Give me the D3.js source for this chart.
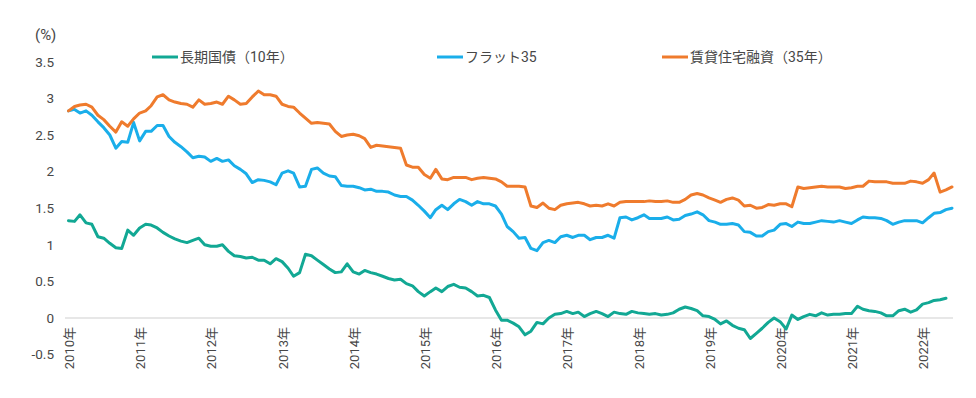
<!DOCTYPE html>
<html>
<head>
<meta charset="utf-8">
<script src="https://cdn.jsdelivr.net/npm/d3@7"></script>
<style>
  html, body { margin: 0; padding: 0; background: #fff; }
  #container { width: 976px; height: 398px; }
  text { font-family: Roboto, "Noto Sans CJK JP", sans-serif; fill: #474747; }
</style>
</head>
<body>
<div id="container"></div>
<script>
// 月次データ 2010年1月〜
const startMonth = new Date(2010, 0, 1);
const yearTicks = [2010, 2011, 2012, 2013, 2014, 2015, 2016, 2017, 2018, 2019, 2020, 2021, 2022];
const yTicks = [-0.5, 0, 0.5, 1, 1.5, 2, 2.5, 3, 3.5];
const seriesNames = ["長期国債（10年）", "フラット35", "賃貸住宅融資（35年）"];

// 長期国債（10年） 2010/1〜2022/5
const jgb10 = [
  1.33, 1.32, 1.41, 1.30, 1.28, 1.11, 1.09, 1.02, 0.96, 0.95, 1.20, 1.13,
  1.23, 1.28, 1.27, 1.23, 1.17, 1.12, 1.08, 1.05, 1.03, 1.06, 1.09, 1.00,
  0.98, 0.98, 1.00, 0.91, 0.85, 0.84, 0.82, 0.83, 0.79, 0.79, 0.74, 0.81,
  0.77, 0.68, 0.57, 0.62, 0.87, 0.85, 0.79, 0.73, 0.67, 0.62, 0.63, 0.74,
  0.63, 0.60, 0.65, 0.62, 0.60, 0.57, 0.54, 0.52, 0.53, 0.47, 0.44, 0.36,
  0.30, 0.36, 0.41, 0.36, 0.43, 0.46, 0.42, 0.41, 0.36, 0.30, 0.31, 0.28,
  0.11, -0.03, -0.03, -0.07, -0.12, -0.23, -0.18, -0.06, -0.08, 0.00, 0.05, 0.06,
  0.09, 0.06, 0.08, 0.02, 0.06, 0.09, 0.06, 0.02, 0.08, 0.06, 0.05, 0.09,
  0.07, 0.06, 0.05, 0.06, 0.04, 0.05, 0.07, 0.12, 0.15, 0.13, 0.10, 0.03,
  0.02, -0.02, -0.08, -0.04, -0.10, -0.14, -0.16, -0.28, -0.21, -0.14, -0.06, 0.00,
  -0.05, -0.15, 0.04, -0.02, 0.02, 0.05, 0.03, 0.07, 0.04, 0.05, 0.05, 0.06,
  0.06, 0.16, 0.12, 0.10, 0.09, 0.07, 0.03, 0.03, 0.10, 0.12, 0.08, 0.11,
  0.19, 0.21, 0.24, 0.25, 0.27
];

// フラット35 2010/1〜2022/6
const flat35 = [
  2.83, 2.85, 2.80, 2.83, 2.77, 2.68, 2.60, 2.50, 2.32, 2.41, 2.40, 2.67,
  2.42, 2.55, 2.55, 2.63, 2.63, 2.48, 2.40, 2.34, 2.27, 2.19, 2.21, 2.20,
  2.14, 2.18, 2.14, 2.16, 2.08, 2.03, 1.97, 1.85, 1.89, 1.88, 1.86, 1.82,
  1.98, 2.01, 1.98, 1.79, 1.80, 2.03, 2.05, 1.98, 1.94, 1.93, 1.81, 1.80,
  1.80, 1.78, 1.75, 1.76, 1.73, 1.73, 1.72, 1.68, 1.66, 1.66, 1.61, 1.54,
  1.46, 1.37, 1.48, 1.54, 1.48, 1.56, 1.62, 1.59, 1.54, 1.59, 1.56, 1.56,
  1.53, 1.42, 1.25, 1.18, 1.09, 1.10, 0.95, 0.92, 1.03, 1.06, 1.03, 1.11,
  1.13, 1.10, 1.13, 1.13, 1.07, 1.10, 1.10, 1.13, 1.09, 1.37, 1.38, 1.34,
  1.37, 1.41, 1.36, 1.36, 1.36, 1.38, 1.34, 1.35, 1.40, 1.42, 1.45, 1.41,
  1.33, 1.31, 1.28, 1.28, 1.29, 1.27, 1.18, 1.17, 1.12, 1.12, 1.18, 1.20,
  1.28, 1.29, 1.25, 1.31, 1.29, 1.29, 1.31, 1.33, 1.32, 1.31, 1.33, 1.31,
  1.29, 1.34, 1.38, 1.37, 1.37, 1.36, 1.33, 1.28, 1.31, 1.33, 1.33, 1.33,
  1.30, 1.37, 1.43, 1.44, 1.48, 1.50
];

// 賃貸住宅融資（35年） 2010/1〜2022/6
const rental35 = [
  2.83, 2.89, 2.91, 2.92, 2.88, 2.77, 2.71, 2.62, 2.54, 2.68, 2.62, 2.72,
  2.80, 2.83, 2.90, 3.02, 3.05, 2.98, 2.95, 2.93, 2.92, 2.88, 2.98, 2.92,
  2.93, 2.95, 2.92, 3.03, 2.98, 2.92, 2.93, 3.02, 3.10, 3.05, 3.05, 3.03,
  2.92, 2.89, 2.88, 2.80, 2.73, 2.66, 2.67, 2.66, 2.65, 2.55, 2.48, 2.50,
  2.51, 2.49, 2.45, 2.33, 2.36, 2.35, 2.34, 2.33, 2.32, 2.09, 2.06, 2.06,
  1.96, 1.91, 2.03, 1.90, 1.89, 1.92, 1.92, 1.92, 1.89, 1.91, 1.92, 1.91,
  1.90, 1.86, 1.80, 1.80, 1.80, 1.79, 1.53, 1.51, 1.57, 1.50, 1.48, 1.54,
  1.56, 1.57, 1.58, 1.56, 1.53, 1.54, 1.53, 1.56, 1.53, 1.58, 1.59, 1.59,
  1.59, 1.59, 1.60, 1.59, 1.59, 1.60, 1.58, 1.58, 1.62, 1.68, 1.70, 1.68,
  1.64, 1.61, 1.58, 1.62, 1.64, 1.61, 1.53, 1.54, 1.50, 1.51, 1.55, 1.54,
  1.56, 1.56, 1.52, 1.79, 1.77, 1.78, 1.79, 1.80, 1.79, 1.79, 1.79, 1.77,
  1.78, 1.80, 1.80, 1.87, 1.86, 1.86, 1.86, 1.84, 1.84, 1.84, 1.87, 1.86,
  1.84, 1.89, 1.98, 1.72, 1.75, 1.79
];

const colors = ["#12a894", "#1aaeea", "#ef7b2d"];

const width = 976, height = 398;
const svg = d3.select("#container")
  .append("svg")
    .attr("width", width)
    .attr("height", height);

const x = d3.scaleTime()
  .domain([startMonth, d3.timeMonth.offset(startMonth, 149)])
  .range([68.5, 952]);
const y = d3.scaleLinear()
  .domain([-0.5, 3.5])
  .range([354.6, 61.8]);

// 0 の線
svg.append("line")
  .attr("x1", 65).attr("x2", 953)
  .attr("y1", y(0)).attr("y2", y(0))
  .attr("stroke", "#cfcfcf")
  .attr("stroke-width", 1);

// y軸
const yAxis = svg.append("g")
  .attr("transform", "translate(54,0)")
  .call(d3.axisLeft(y).tickValues(yTicks).tickSize(0).tickPadding(0).tickFormat(d => String(d)));
yAxis.select(".domain").remove();
yAxis.selectAll("text")
  .attr("font-size", 13.5)
  .attr("font-family", "Roboto, 'Noto Sans CJK JP', sans-serif")
  .attr("fill", "#474747");

svg.append("text")
  .attr("x", 35).attr("y", 40)
  .attr("font-size", 15)
  .text("(%)");

// x軸
const xAxis = svg.append("g")
  .attr("transform", `translate(0,${y(0)})`)
  .call(d3.axisBottom(x)
    .tickValues(yearTicks.map(yr => new Date(yr, 0, 1)))
    .tickSize(0)
    .tickFormat(d => d.getFullYear() + "年"));
xAxis.select(".domain").remove();
xAxis.selectAll("text")
  .attr("font-size", 13)
  .attr("font-family", "Roboto, 'Noto Sans CJK JP', sans-serif")
  .attr("fill", "#474747")
  .attr("transform", "rotate(-90)")
  .attr("text-anchor", "end")
  .attr("x", -9)
  .attr("y", 0)
  .attr("dy", "0.4em");

// 線
const line = d3.line()
  .x((d, i) => x(d3.timeMonth.offset(startMonth, i)))
  .y(d => y(d));

const seriesData = [jgb10, flat35, rental35];
svg.append("g")
    .attr("fill", "none")
    .attr("stroke-width", 3)
    .attr("stroke-linejoin", "round")
    .attr("stroke-linecap", "round")
  .selectAll("path")
  .data(seriesData)
  .join("path")
    .attr("stroke", (d, i) => colors[i])
    .attr("d", line);

// 凡例
const legendX = [152, 437, 662];
const legend = svg.append("g")
  .selectAll("g")
  .data(seriesNames)
  .join("g")
    .attr("transform", (d, i) => `translate(${legendX[i]},57)`);
legend.append("line")
  .attr("x1", 0).attr("x2", 26)
  .attr("stroke", (d, i) => colors[i])
  .attr("stroke-width", 3);
legend.append("text")
  .attr("x", 28)
  .attr("dy", "0.36em")
  .attr("font-size", 14)
  .text(d => d);
</script>
</body>
</html>
